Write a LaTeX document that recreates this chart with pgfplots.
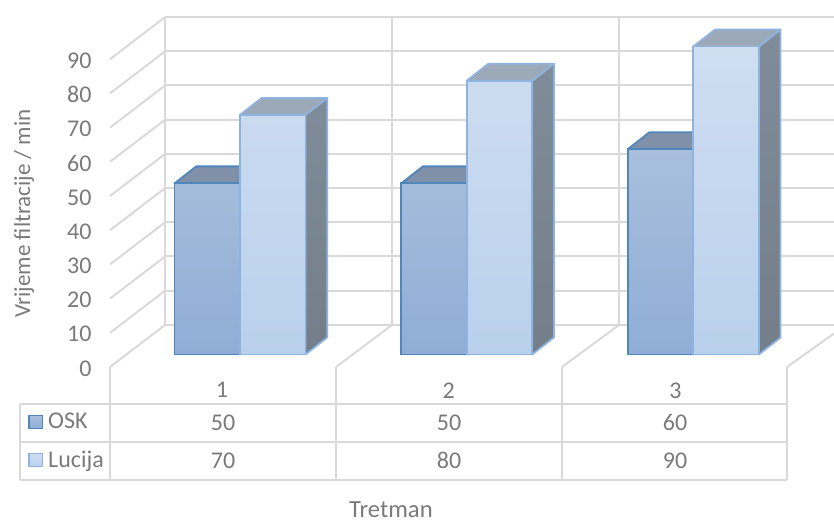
\documentclass[border=0pt]{standalone}
\usepackage{pgfplots}
\pgfplotsset{compat=1.18}
\usepackage{fontspec}
\setmainfont{Carlito}

\definecolor{gridc}{HTML}{D9D9D9}
\definecolor{textc}{HTML}{7A7A7A}
\definecolor{oskedge}{HTML}{4F86BC}
\definecolor{osktop}{HTML}{A9BFDC}
\definecolor{oskbot}{HTML}{8FADD6}
\definecolor{oskroof}{HTML}{7F90A8}
\definecolor{oskside}{HTML}{77879E}
\definecolor{lucedge}{HTML}{8FB3DF}
\definecolor{luctop}{HTML}{CFDEF1}
\definecolor{lucbot}{HTML}{B9D0EC}
\definecolor{lucroof}{HTML}{9CA9B8}
\definecolor{lucside}{HTML}{808C99}

% roof and side of a bar: #1 category, #2 value, #3 left edge offset, #4 right edge offset, #5 edge, #6 roof, #7 side
\newcommand{\barfaces}[7]{%
  \pgfmathsetmacro{\xa}{#1+#3}
  \pgfmathsetmacro{\xb}{#1+#4}
  \pgfmathsetmacro{\xc}{#1+#3+0.0957}
  \pgfmathsetmacro{\xd}{#1+#4+0.0957}
  \pgfmathsetmacro{\yt}{#2+4.97}
  \addplot[yshift=12.5pt, top color=#7, bottom color=#7!90!black, draw=#5, line width=1.8pt, line join=round]
    coordinates {(\xb,0) (\xd,4.97) (\xd,\yt) (\xb,#2)} -- cycle;
  \addplot[yshift=12.5pt, fill=#6, draw=#5, line width=1.8pt, line join=round]
    coordinates {(\xa,#2) (\xc,\yt) (\xd,\yt) (\xb,#2)} -- cycle;
}

\begin{document}
\begin{tikzpicture}
\useasboundingbox (0,0) rectangle (834pt,521pt);

% walls, floor and table frame, in picture pixels
\begin{scope}[x=1pt, y=-1pt, yshift=521pt, draw=gridc, line width=2pt]
  \foreach \y in {17,51.2,85.4,119.6,153.8,188,222.2,256.4,290.6,324.8} {
    \draw (165,\y) -- (834,\y);
  }
  \foreach \x in {165,392,619} {
    \draw (\x,17) -- (\x,325);
  }
  \foreach \i in {0,...,9} {
    \draw (110,367-34.2*\i) -- (165,325-34.2*\i);
  }
  \draw (336,367) -- (392,325);
  \draw (562,367) -- (619,325);
  \draw (787,367) -- (834,333.5);
  \foreach \x in {110,336,562,787} {
    \draw (\x,367) -- (\x,480);
  }
  \draw (20,403.7) -- (787,403.7);
  \draw (20,441.7) -- (787,441.7);
  \draw (20,480) -- (787,480);
  \draw (20,403.7) -- (20,480);
\end{scope}

\begin{axis}[
    at={(110pt,154pt)}, anchor=south west,
    scale only axis,
    width=677pt, height=308pt,
    xmin=0.4265, xmax=3.413,
    ymin=0, ymax=90,
    clip=false,
    axis line style={draw=none},
    major tick length=0pt,
    xtick={1,2,3},
    ytick={0,10,...,90},
    /pgf/number format/assume math mode=true,
    tick label style={text=textc, font=\fontsize{24}{28}\selectfont},
    yticklabel style={xshift=-15pt, yshift=-1.5pt},
    xticklabel style={xshift=-18pt, yshift=-12pt},
    xlabel={Tretman},
    ylabel={Vrijeme filtracije / min},
    xlabel style={text=textc, font=\fontsize{24.6}{28}\selectfont, inner sep=0pt,
      at={(axis description cs:0.415,-0.488)}, anchor=base},
    ylabel style={text=textc, font=\fontsize{23}{26}\selectfont, inner sep=0pt,
      at={(axis description cs:-0.118,0.498)}, anchor=base},
  ]
  % OSK
  \barfaces{1}{50}{-0.289}{0}{oskedge}{oskroof}{oskside}
  \barfaces{2}{50}{-0.289}{0}{oskedge}{oskroof}{oskside}
  \barfaces{3}{60}{-0.289}{0}{oskedge}{oskroof}{oskside}
  \addplot[ybar, bar width=65.5pt, bar shift=-32.75pt, yshift=12.5pt,
      draw=oskedge, line width=1.8pt, top color=osktop, bottom color=oskbot]
    coordinates {(1,50) (2,50) (3,60)};
  % Lucija
  \barfaces{1}{70}{0}{0.289}{lucedge}{lucroof}{lucside}
  \barfaces{2}{80}{0}{0.289}{lucedge}{lucroof}{lucside}
  \barfaces{3}{90}{0}{0.289}{lucedge}{lucroof}{lucside}
  \addplot[ybar, bar width=65.5pt, bar shift=32.75pt, yshift=12.5pt,
      draw=lucedge, line width=1.8pt, top color=luctop, bottom color=lucbot]
    coordinates {(1,70) (2,80) (3,90)};
\end{axis}

% data table under the plot
\begin{scope}[x=1pt, y=-1pt, yshift=521pt,
    every node/.style={text=textc, font=\fontsize{24}{28}\selectfont, inner sep=0pt}]
  \node at (223,422.7) {50};
  \node at (449,422.7) {50};
  \node at (675,422.7) {60};
  \node at (223,460.7) {70};
  \node at (449,460.7) {80};
  \node at (675,460.7) {90};
  \node[anchor=base west] at (48,429) {OSK};
  \node[anchor=base west] at (48,467.5) {Lucija};
  \shade[top color=osktop, bottom color=oskbot, draw=oskedge, line width=1.8pt] (29,415.5) rectangle (42.5,428.5);
  \shade[top color=luctop, bottom color=lucbot, draw=lucedge, line width=1.8pt] (29,453.5) rectangle (42.5,466.5);
\end{scope}
\end{tikzpicture}
\end{document}
